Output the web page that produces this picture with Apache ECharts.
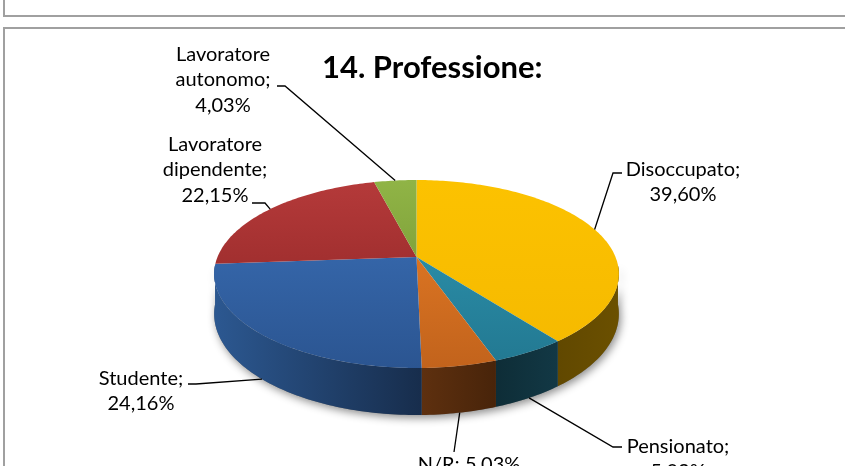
<!DOCTYPE html>
<html>
<head>
<meta charset="utf-8">
<script src="https://cdn.jsdelivr.net/npm/echarts@6/dist/echarts.min.js"></script>
<style>
  html, body { margin: 0; padding: 0; background: #fff; }
  #chart { width: 845px; height: 466px; }
</style>
</head>
<body>
<div id="chart"></div>
<script>
// data, clockwise from 12 o'clock
const categories = ['Disoccupato', 'Pensionato', 'N/R', 'Studente', 'Lavoratore\ndipendente', 'Lavoratore\nautonomo'];
const shares = [39.60, 5.03, 5.03, 24.16, 22.15, 4.03];
const breakAfterName = [true, true, false, true, true, true];

// styles (left -> right for walls, top -> bottom for tops)
const topColors = [['#fcc200', '#f5b900'], ['#2f98b3', '#227891'], ['#ea7f27', '#c2631c'],
                   ['#3b70b8', '#2b5591'], ['#b53a3a', '#892222'], ['#90b446', '#6c8c2c']];
const wallColors = [['#614800', '#6b5000'], ['#0e2d37', '#123845'], ['#5e300f', '#48240a'],
                    ['#2c5891', '#172d4c'], ['#5a1a1a', '#4a1414'], ['#4a5e1c', '#3c4d16']];

// labels: text block centre, leader elbow and leader end
const labelPos = [[683, 182], [678, 459], [469, 465], [141, 391], [215, 170], [223, 80]];
const leaderPts = [[[613, 173], [622, 173]], [[613, 447], [622, 447]], [[454, 452], [454, 452]],
                   [[196, 384], [188, 384]], [[265, 203], [252, 203]], [[285, 86], [277, 86]]];

// 3d-ish projection of the disc
const CX = 416.5, CY = 257, A = 199, B = 90.9, K = 0.181, H = 38.5;
const START = -90;
const WALL_FROM = 5, WALL_TO = 175;

function proj(deg, depth) {
  const t = deg * Math.PI / 180;
  const u = Math.cos(t), v = Math.sin(t);
  const d = 1 - K * v;
  return [CX + A * u / d, CY + (B * v + depth * H) / d];
}

function arc(a, b, depth) {
  const n = Math.max(2, Math.ceil(Math.abs(b - a)));
  const pts = [];
  for (let i = 0; i <= n; i++) pts.push(proj(a + (b - a) * i / n, depth));
  return pts;
}

const total = shares.reduce((p, c) => p + c, 0);
function sliceRange(i) {
  let s = 0;
  for (let j = 0; j < i; j++) s += shares[j];
  return [START + 360 * s / total, START + 360 * (s + shares[i]) / total];
}

function fmt(v) { return v.toFixed(2).replace('.', ',') + '%'; }

function renderWall(params) {
  const i = params.dataIndex;
  const [a, b] = sliceRange(i);
  const children = [];
  if (i === 0) {
    const hull = arc(WALL_FROM, WALL_TO, 0).concat(arc(WALL_TO, WALL_FROM, 1));
    children.push({
      type: 'polygon', shape: { points: hull },
      style: { fill: '#777', shadowBlur: 9, shadowColor: 'rgba(0,0,0,0.45)', shadowOffsetX: 2, shadowOffsetY: 3 }
    });
  }
  const lo = Math.max(a, WALL_FROM), hi = Math.min(b, WALL_TO);
  if (lo < hi) {
    const pts = arc(lo, hi, 0).concat(arc(hi, lo, 1));
    children.push({
      type: 'polygon', shape: { points: pts },
      style: { fill: new echarts.graphic.LinearGradient(0, 0, 1, 0, [
        { offset: 0, color: wallColors[i][0] }, { offset: 1, color: wallColors[i][1] }]) }
    });
  }
  return { type: 'group', children: children };
}

function renderTop(params) {
  const i = params.dataIndex;
  const [a, b] = sliceRange(i);
  const pts = [[CX, CY]].concat(arc(a, b, 0));
  const mid = (a + b) / 2;
  const front = Math.sin(mid * Math.PI / 180) > 0;
  const anchor = proj(mid, front ? 1 : 0);
  const text = categories[i] + ';' + (breakAfterName[i] ? '\n' : ' ') + fmt(shares[i]);
  return {
    type: 'group',
    children: [
      {
        type: 'polygon', shape: { points: pts },
        style: { fill: new echarts.graphic.LinearGradient(0, 180, 0, 368, [
          { offset: 0, color: topColors[i][0] }, { offset: 1, color: topColors[i][1] }], true) }
      },
      {
        type: 'polyline', shape: { points: [anchor, leaderPts[i][0], leaderPts[i][1]] },
        style: { stroke: '#000', lineWidth: 1.3, fill: null }
      },
      {
        type: 'text',
        style: {
          text: text, x: labelPos[i][0], y: labelPos[i][1],
          align: 'center', verticalAlign: 'middle',
          font: '20px Lato', lineHeight: 25.5, fill: '#000'
        }
      }
    ]
  };
}

const chart = echarts.init(document.getElementById('chart'), null, { renderer: 'canvas' });
chart.setOption({
  animation: false,
  backgroundColor: '#fff',
  title: {
    text: '14. Professione:',
    left: 317, top: 47,
    textStyle: { fontFamily: 'Lato', fontWeight: 'bold', fontSize: 31, color: '#000' }
  },
  graphic: [
    { type: 'rect', shape: { x: 4, y: -10, width: 900, height: 26 }, style: { fill: null, stroke: '#a0a0a0', lineWidth: 2 } },
    { type: 'rect', shape: { x: 4, y: 28, width: 900, height: 500 }, style: { fill: null, stroke: '#a0a0a0', lineWidth: 2 } }
  ],
  series: [
    { type: 'custom', coordinateSystem: 'none', silent: true, z: 1, renderItem: renderWall, data: shares },
    { type: 'custom', coordinateSystem: 'none', silent: true, z: 2, renderItem: renderTop, data: shares }
  ]
});
</script>
</body>
</html>
